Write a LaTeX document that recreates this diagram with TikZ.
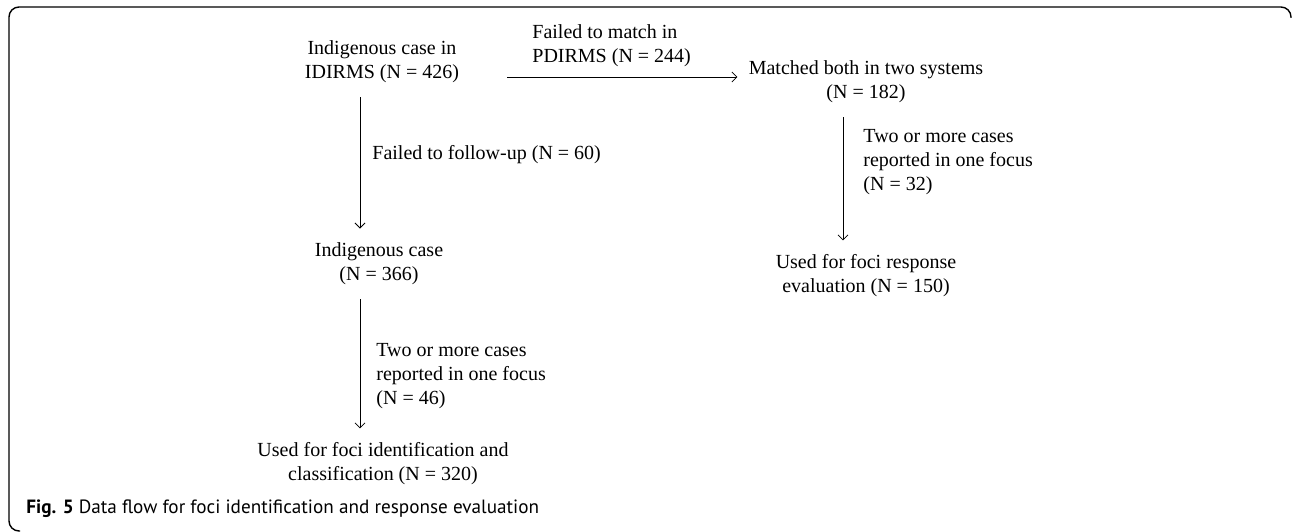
\documentclass[tikz,border=0pt]{standalone}
\usepackage{fontspec}
\setmainfont{Liberation Serif}
\newfontfamily\capfont{PT Sans}
\usetikzlibrary{arrows.meta}

\tikzset{
  flow/.style={->, shorten <=14pt, shorten >=14pt},
  note/.style={anchor=west, align=left}
}

\begin{document}
\begin{tikzpicture}[x=1pt, y=-1pt, line width=0.8pt,
    >={Straight Barb[length=5pt,width=10pt]},
    every node/.style={inner sep=0pt, font=\fontsize{20}{24}\selectfont}]
  \useasboundingbox (0,0) rectangle (1292,532);
  % frame
  \draw[rounded corners=10pt, line width=1.4pt] (1291,18) -- (1291,7) -- (9,7) -- (9,531) -- (20,531);

  \node (Id) at (382,62)  [align=center] {Indigenous case in\\IDIRMS (N = 426)};
  \node (Mb) at (866,82)  [align=center] {Matched both in two systems\\(N = 182)};
  \node (Ic) at (379,264) [align=center] {Indigenous case\\(N = 366)};
  \node (Uf) at (866,276) [align=center] {Used for foci response\\evaluation (N = 150)};
  \node (Ui) at (383,464) [align=center] {Used for foci identification and\\classification (N = 320)};

  \node (Fm) at (532,46)  [note] {Failed to match in\\PDIRMS (N = 244)};
  \node (Ff) at (372,155) [note] {Failed to follow-up (N = 60)};
  \node (Ta) at (376,376) [note] {Two or more cases\\reported in one focus\\(N = 46)};
  \node (Tb) at (863,162) [note] {Two or more cases\\reported in one focus\\(N = 32)};

  \draw[->, shorten <=48pt, shorten >=11pt] ([yshift=-15pt]Id.east) -- ([yshift=-15pt]Id.east -| Mb.west);
  \draw[flow] ([xshift=-22pt]Id.south) -- ([xshift=-19pt]Ic.north);
  \draw[flow] ([xshift=-19pt]Ic.south) -- ([xshift=-23pt]Ui.north);
  \draw[flow] ([xshift=-23pt]Mb.south) -- ([xshift=-23pt]Uf.north);

  % caption
  \node (Cp) at (26,509) [anchor=west, font=\capfont\fontsize{19.2}{22}\selectfont]
    {\textbf{Fig. 5} Data flow for foci identification and response evaluation};
\end{tikzpicture}
\end{document}
